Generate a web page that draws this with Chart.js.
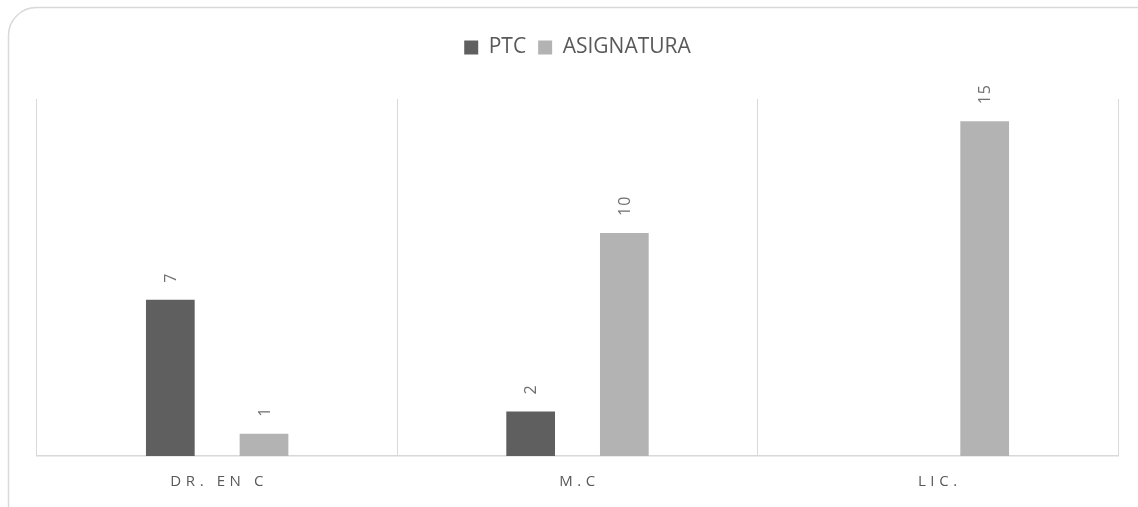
<!DOCTYPE html>
<html>
<head>
<meta charset="utf-8">
<script src="https://cdn.jsdelivr.net/npm/chart.js@4.4.1/dist/chart.umd.min.js"></script>
<style>
  html, body { margin: 0; padding: 0; background: #ffffff; }
  #wrap { position: relative; width: 1138px; height: 507px; }
</style>
</head>
<body>
<div id="wrap"><canvas id="c" width="1138" height="507"></canvas></div>
<script>
const categories = ["DR. EN C", "M.C", "LIC."];
const seriesNames = ["PTC", "ASIGNATURA"];
const ptcValues = [7, 2, null];
const asignaturaValues = [1, 10, 15];
const yMax = 16;

const TEXT = "#595959";
const GRID = "#d9d9d9";

const frame = {
  id: "frame",
  beforeDraw(chart) {
    const ctx = chart.ctx;
    ctx.save();
    ctx.fillStyle = "#ffffff";
    ctx.fillRect(0, 0, chart.width, chart.height);
    ctx.strokeStyle = GRID;
    ctx.lineWidth = 1.5;
    ctx.beginPath();
    ctx.roundRect(8.5, 7.5, 1160, 530, 28);
    ctx.stroke();
    ctx.restore();
  }
};

const legendSpace = {
  id: "legendSpace",
  beforeInit(chart) {
    const orig = chart.legend.fit;
    chart.legend.fit = function () {
      orig.bind(chart.legend)();
      this.height += 31;
    };
  }
};

const valueLabels = {
  id: "valueLabels",
  afterDatasetsDraw(chart) {
    const ctx = chart.ctx;
    ctx.save();
    ctx.font = "16px 'Open Sans'";
    ctx.fillStyle = "#6f6f6f";
    ctx.textAlign = "left";
    ctx.textBaseline = "middle";
    ctx.letterSpacing = "1px";
    chart.data.datasets.forEach((ds, di) => {
      const meta = chart.getDatasetMeta(di);
      meta.data.forEach((bar, i) => {
        const v = ds.data[i];
        if (v === null || v === undefined) return;
        ctx.save();
        ctx.translate(bar.x + 1, bar.y - 17);
        ctx.rotate(-Math.PI / 2);
        ctx.fillText(String(v), 0, 0);
        ctx.restore();
      });
    });
    ctx.restore();
  }
};

const xLabels = {
  id: "xLabels",
  afterDraw(chart) {
    const ctx = chart.ctx;
    const xs = chart.scales.x;
    ctx.save();
    ctx.font = "15px 'Open Sans'";
    ctx.fillStyle = TEXT;
    ctx.textAlign = "center";
    ctx.textBaseline = "middle";
    ctx.letterSpacing = "4.6px";
    categories.forEach((c, i) => {
      ctx.fillText(c, xs.getPixelForValue(i) + 2, chart.chartArea.bottom + 26);
    });
    ctx.restore();
  }
};

new Chart(document.getElementById("c"), {
  type: "bar",
  data: {
    labels: categories,
    datasets: [
      { label: seriesNames[0], data: ptcValues, backgroundColor: "#5f5f5f",
        categoryPercentage: 0.52, barPercentage: 0.52 },
      { label: seriesNames[1], data: asignaturaValues, backgroundColor: "#b3b3b3",
        categoryPercentage: 0.52, barPercentage: 0.52 }
    ]
  },
  options: {
    responsive: false,
    animation: false,
    devicePixelRatio: 1,
    layout: { padding: { left: 37, right: 20, top: 25, bottom: 51 } },
    plugins: {
      legend: {
        position: "top",
        align: "center",
        labels: {
          boxWidth: 14, boxHeight: 14, padding: 12,
          color: TEXT,
          font: { family: "'Open Sans'", size: 21 }
        }
      },
      tooltip: { enabled: false }
    },
    scales: {
      x: {
        offset: true,
        grid: { display: true, offset: true, color: GRID, lineWidth: 1, drawTicks: false },
        border: { display: true, color: GRID, width: 1.5 },
        ticks: { display: false }
      },
      y: {
        display: false,
        min: 0, max: yMax
      }
    }
  },
  plugins: [frame, legendSpace, valueLabels, xLabels]
});
</script>
</body>
</html>
